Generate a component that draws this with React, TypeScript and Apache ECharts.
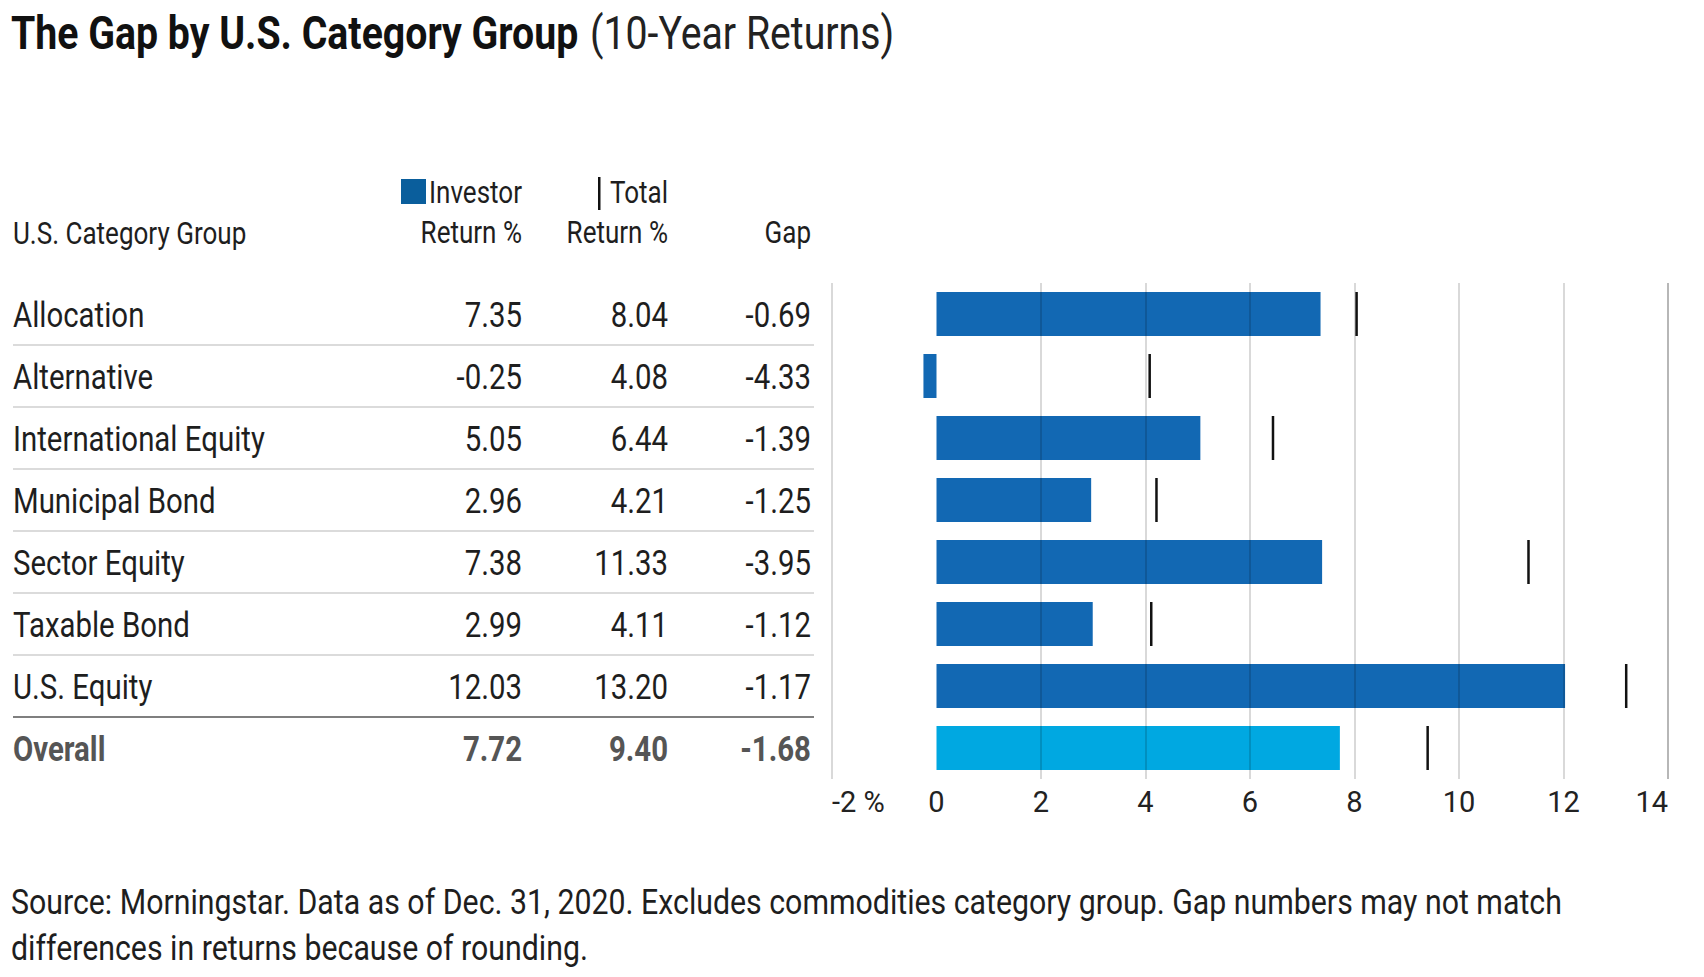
import React, { useEffect, useRef } from 'react';
import * as echarts from 'echarts';

const categories = ['Allocation', 'Alternative', 'International Equity', 'Municipal Bond', 'Sector Equity', 'Taxable Bond', 'U.S. Equity', 'Overall'];
const investorReturn = [7.35, -0.25, 5.05, 2.96, 7.38, 2.99, 12.03, 7.72];
const totalReturn = [8.04, 4.08, 6.44, 4.21, 11.33, 4.11, 13.2, 9.4];
const gapValues = [-0.69, -4.33, -1.39, -1.25, -3.95, -1.12, -1.17, -1.68];
const xTicks = [-2, 0, 2, 4, 6, 8, 10, 12, 14];

const FONT = 'Roboto';
const DARK = '#1e1e1e';
const BLUE = '#1268b3';
const LIGHT_BLUE = '#00a8e1';

const GRID_TOP = 283;
const GRID_BOTTOM = 198;
const PAGE_H = 977;
const band = (PAGE_H - GRID_TOP - GRID_BOTTOM) / categories.length;

function txt(x: number, y: number, s: string, o: any = {}) {
  return {
    type: 'text',
    x,
    y,
    scaleX: o.sx ?? 0.84,
    silent: true,
    style: {
      text: s,
      fontFamily: FONT,
      fontSize: o.size ?? 35,
      fontWeight: o.weight ?? 'normal',
      fill: o.color ?? DARK,
      align: o.align ?? 'left',
      textAlign: o.align ?? 'left',
      verticalAlign: 'middle',
      textVerticalAlign: 'middle',
      rich: o.rich,
    },
  };
}

export default function App() {
  const ref = useRef<HTMLDivElement>(null);
  useEffect(() => {
    const chart = echarts.init(ref.current!, null, { renderer: 'svg' });
    const graphics: any[] = [];
    // title
    graphics.push(
      txt(11, 33, '{b|The Gap by U.S. Category Group} {r|(10-Year Returns)}', {
        sx: 0.853,
        rich: {
          b: { fontFamily: FONT, fontSize: 46, fontWeight: 'bold', fill: '#111', padding: [0, 5, 0, 0] },
          r: { fontFamily: FONT, fontSize: 46, fontWeight: 'normal', fill: '#222' },
        },
      })
    );
    // header
    const COL_INV = 522;
    const COL_TOT = 668;
    const COL_GAP = 811;
    graphics.push(txt(13, 233, 'U.S. Category Group', { size: 31 }));
    graphics.push({ type: 'rect', shape: { x: 401, y: 179, width: 25, height: 25 }, style: { fill: '#0a5e9c' }, silent: true });
    graphics.push(txt(COL_INV, 192, 'Investor', { size: 31, align: 'right' }));
    graphics.push(txt(COL_INV, 232, 'Return %', { size: 31, align: 'right' }));
    graphics.push({ type: 'rect', shape: { x: 598, y: 177, width: 2.5, height: 33 }, style: { fill: '#111' }, silent: true });
    graphics.push(txt(COL_TOT, 192, 'Total', { size: 31, align: 'right' }));
    graphics.push(txt(COL_TOT, 232, 'Return %', { size: 31, align: 'right' }));
    graphics.push(txt(COL_GAP, 232, 'Gap', { size: 31, align: 'right' }));
    // rows
    categories.forEach((c, i) => {
      const y = GRID_TOP + band * (i + 0.5) + 1;
      const last = i === categories.length - 1;
      const o = last ? { weight: 'bold', color: '#555' } : {};
      graphics.push(txt(13, y, c, o));
      graphics.push(txt(COL_INV, y, investorReturn[i].toFixed(2), { ...o, align: 'right' }));
      graphics.push(txt(COL_TOT, y, totalReturn[i].toFixed(2), { ...o, align: 'right' }));
      graphics.push(txt(COL_GAP, y, gapValues[i].toFixed(2), { ...o, align: 'right' }));
      if (!last) {
        const ly = GRID_TOP + band * (i + 1);
        graphics.push({
          type: 'line',
          silent: true,
          shape: { x1: 13, y1: ly, x2: 814, y2: ly },
          style: { stroke: i === categories.length - 2 ? '#555' : '#cfcfcf', lineWidth: 1.5 },
        });
      }
    });
    // footer
    graphics.push(txt(11, 902, 'Source: Morningstar. Data as of Dec. 31, 2020. Excludes commodities category group. Gap numbers may not match', { size: 35, sx: 0.866 }));
    graphics.push(txt(11, 948, 'differences in returns because of rounding.', { size: 35, sx: 0.866 }));

    const gridColors = xTicks.map((t, i) => (t === 0 ? 'rgba(0,0,0,0)' : i === xTicks.length - 1 ? 'rgba(0,0,0,0.38)' : 'rgba(0,0,0,0.2)'));

    chart.setOption({
      animation: false,
      grid: { left: 832, right: 36, top: GRID_TOP, bottom: GRID_BOTTOM, containLabel: false },
      xAxis: {
        type: 'value',
        min: xTicks[0],
        max: xTicks[xTicks.length - 1],
        interval: 2,
        z: 5,
        axisLine: { show: false },
        axisTick: { show: false },
        splitLine: { show: true, lineStyle: { color: gridColors, width: 1.5 } },
        axisLabel: {
          fontFamily: FONT,
          fontSize: 29,
          color: '#222',
          margin: 8,
          alignMinLabel: 'left',
          alignMaxLabel: 'right',
          formatter: (v: number) => (v === xTicks[0] ? v + ' %' : String(v)),
        },
      },
      yAxis: {
        type: 'category',
        data: categories,
        inverse: true,
        show: false,
      },
      series: [
        {
          type: 'bar',
          name: 'Investor Return %',
          barWidth: 44,
          z: 2,
          data: investorReturn.map((v, i) => ({
            value: v,
            itemStyle: { color: i === categories.length - 1 ? LIGHT_BLUE : BLUE },
          })),
        },
        {
          type: 'scatter',
          name: 'Total Return %',
          symbol: 'rect',
          symbolSize: [2.5, 44],
          z: 6,
          itemStyle: { color: '#111', opacity: 1 },
          data: totalReturn.map((v, i) => [v, categories[i]]),
        },
      ],
      graphic: graphics,
    });
    return () => chart.dispose();
  }, []);
  return <div ref={ref} style={{ position: 'fixed', left: 0, top: 0, width: 1704, height: 977, background: '#fff' }} />;
}
